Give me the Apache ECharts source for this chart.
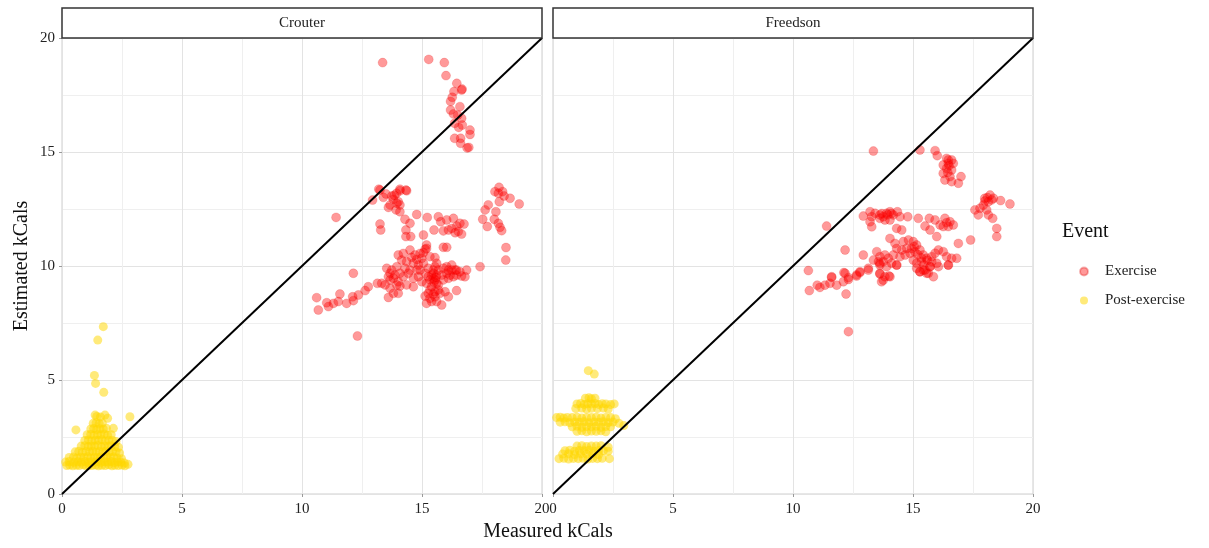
<!DOCTYPE html>
<html><head><meta charset="utf-8">
<script src="https://cdn.jsdelivr.net/npm/echarts@6/dist/echarts.min.js"></script>
<style>html,body{margin:0;padding:0;background:#fff}#c{width:1209px;height:548px}</style>
</head><body><div id="c"></div>
<script>
const panels = ['Crouter', 'Freedson'];
const events = ['Exercise', 'Post-exercise'];

const crouterExercise = [
[13.36,18.92],[15.28,19.06],[15.93,18.92],[16.0,18.35],[16.45,18.01],[16.67,17.76],[16.65,17.72],[16.33,17.65],[16.26,17.4],[16.19,17.22],
[16.58,16.99],[16.19,16.84],[16.31,16.67],[16.49,16.62],[16.65,16.48],[16.36,16.26],[16.53,16.08],[16.68,16.18],[17.0,15.96],[17.0,15.77],
[16.36,15.6],[16.61,15.6],[16.61,15.38],[16.88,15.18],[16.95,15.2],
[13.2,13.37],[14.08,13.37],[14.33,13.33],[13.25,13.33],[13.5,13.16],[13.74,13.07],[13.94,13.19],[14.08,13.3],[14.36,13.3],[13.8,12.92],
[14.01,12.82],[14.08,12.68],[13.67,12.68],[13.6,12.57],[13.92,12.46],[14.08,12.38],[12.94,12.89],[13.39,13.01],[13.85,13.1],[13.95,12.75],
[11.42,12.13],[13.25,11.84],[13.28,11.58],
[14.29,12.05],[14.5,11.87],[14.78,12.26],[14.33,11.58],[14.53,11.29],[14.33,11.29],[15.06,11.36],[15.22,12.13],[15.5,11.58],[15.68,12.16],
[15.78,11.94],[16.03,12.02],[16.31,12.09],[15.89,11.54],[16.1,11.58],[16.24,11.65],[16.45,11.75],[16.58,11.87],[16.75,11.84],[16.51,11.51],
[16.65,11.4],[16.38,11.46],[15.89,10.82],[16.03,10.82],[15.19,10.92],[15.13,10.73],
[18.21,13.45],[18.04,13.26],[18.18,13.19],[18.36,13.26],[18.42,13.07],[18.67,12.97],[18.22,12.82],[19.05,12.72],[17.76,12.68],[17.63,12.46],
[17.53,12.05],[18.08,12.38],[18.01,12.05],[18.18,11.87],[18.25,11.7],[18.32,11.55],[17.72,11.73],[18.5,10.81],[18.49,10.26],[17.42,9.97],
[14.01,10.48],[14.5,10.7],[14.71,10.48],[14.99,10.34],[15.19,10.77],[15.54,10.37],[13.53,9.9],[13.74,9.82],[13.95,9.97],[14.15,10.26],
[14.36,10.19],[14.64,10.12],[14.85,10.04],[15.06,10.12],[15.26,9.9],[15.47,9.82],[15.54,9.97],[15.61,9.6],[15.47,9.46],[15.33,9.39],
[15.19,9.24],[15.4,9.09],[15.68,9.17],[15.89,9.39],[16.1,9.46],[16.03,9.97],[16.24,10.04],[16.38,9.82],[16.44,9.6],[16.31,9.53],
[16.65,9.56],[16.86,9.82],[16.79,9.53],[13.6,9.53],[13.81,9.46],[14.01,9.31],[14.22,9.53],[14.43,9.68],[14.64,9.46],[14.85,9.53],
[14.99,9.31],[14.64,9.09],[14.08,9.12],[13.67,9.02],[13.81,8.8],[13.6,8.62],[14.01,8.8],[15.13,8.68],[15.33,8.58],[15.54,8.65],
[15.75,8.8],[15.96,8.87],[16.1,8.65],[15.82,8.29],[15.61,8.44],[15.4,8.44],[15.19,8.36],[16.44,8.92],[13.14,9.24],[13.32,9.24],
[12.14,9.68],[12.76,9.09],[12.63,8.92],[12.35,8.73],[12.11,8.65],[12.14,8.48],[11.86,8.36],[11.58,8.77],[11.51,8.44],[11.31,8.36],
[11.1,8.22],[11.03,8.39],[10.61,8.61],[10.68,8.07],[12.31,6.93],
[15.47,9.68],[15.54,9.39],[15.4,9.6],[15.61,9.24],[15.26,9.53],[15.13,9.68],[14.92,9.82],[14.78,9.82],[14.5,9.82],[14.29,9.9],
[14.08,9.68],[13.87,9.6],[13.67,9.68],[15.68,9.82],[15.82,9.6],[16.03,9.68],[16.17,9.6],[16.24,9.82],[15.33,8.95],[15.54,8.87],
[15.68,8.95],[15.47,8.77],[15.26,8.8],[13.67,9.39],[13.46,9.17],[13.95,9.17],[14.36,9.17],[14.78,10.29],[14.57,10.38],[14.22,10.55],
[14.92,10.55],[15.06,10.58],[15.33,10.41],[15.61,10.12],[15.89,9.9],[16.1,9.82],[16.58,9.75],[16.44,9.82],[15.5,9.3],[15.58,9.5]
];

const crouterPost = [
[1.72,7.34],[1.49,6.75],[1.35,5.2],[1.40,4.85],[1.74,4.46],[0.58,2.81],[2.83,3.39],[1.38,3.46],[1.79,3.46],[1.9,3.32],[2.14,2.88],
[0.2,1.25],[0.32,1.27],[0.45,1.24],[0.6,1.26],[0.72,1.25],[0.88,1.28],[1.0,1.24],[1.12,1.26],[1.25,1.25],[1.4,1.27],[1.52,1.24],[1.66,1.26],[1.8,1.25],[1.95,1.28],[2.08,1.24],[2.2,1.26],[2.35,1.25],[2.5,1.27],[2.62,1.24],[2.75,1.3],
[0.15,1.4],[0.3,1.42],[0.5,1.39],[0.65,1.41],[0.8,1.4],[0.95,1.43],[1.1,1.38],[1.22,1.41],[1.38,1.4],[1.5,1.42],[1.62,1.39],[1.78,1.41],[1.9,1.4],[2.05,1.43],[2.18,1.38],[2.32,1.41],[2.45,1.4],[2.6,1.36],
[0.3,1.6],[0.48,1.62],[0.62,1.58],[0.78,1.61],[0.92,1.6],[1.08,1.63],[1.2,1.58],[1.35,1.61],[1.48,1.6],[1.6,1.62],[1.75,1.59],[1.88,1.61],[2.02,1.6],[2.15,1.62],[2.3,1.58],[2.48,1.55],
[0.55,1.85],[0.7,1.87],[0.85,1.83],[1.0,1.86],[1.15,1.85],[1.28,1.88],[1.42,1.84],[1.55,1.86],[1.7,1.85],[1.82,1.87],[1.96,1.83],[2.1,1.86],[2.25,1.85],[2.4,1.8],
[0.8,2.1],[0.95,2.12],[1.1,2.08],[1.22,2.11],[1.36,2.1],[1.5,2.13],[1.64,2.08],[1.78,2.11],[1.92,2.1],[2.05,2.12],[2.2,2.08],[2.35,2.05],
[0.95,2.35],[1.1,2.37],[1.24,2.33],[1.38,2.36],[1.52,2.35],[1.66,2.38],[1.8,2.33],[1.95,2.36],[2.1,2.35],[2.25,2.3],
[1.05,2.6],[1.2,2.62],[1.34,2.58],[1.48,2.61],[1.62,2.6],[1.76,2.63],[1.9,2.58],[2.05,2.6],
[1.2,2.85],[1.32,2.87],[1.45,2.83],[1.58,2.86],[1.72,2.85],[1.85,2.88],
[1.3,3.1],[1.42,3.12],[1.55,3.08],[1.68,3.11],[1.45,3.4],[1.6,3.38]
];

const freedsonExercise = [
[13.35,15.04],[15.29,15.09],[15.92,15.06],[16.01,14.84],[16.4,14.72],[16.61,14.65],[16.47,14.5],[16.26,14.43],[16.4,14.28],[16.61,14.21],
[16.26,14.06],[16.54,13.92],[16.33,13.77],[16.61,13.7],[16.89,13.63],[17.0,13.92],[16.68,14.5],[16.47,14.65],[16.5,14.4],[16.45,14.1],
[17.99,12.97],[18.21,13.11],[18.35,12.97],[18.14,12.82],[17.93,12.67],[17.79,12.53],[17.58,12.46],[17.72,12.24],[18.07,12.46],[18.14,12.24],
[18.32,12.09],[18.65,12.87],[19.04,12.72],[18.49,11.65],[18.49,11.29],[17.4,11.14],[16.89,10.99],[18.1,13.0],[18.28,12.9],[18.0,12.85],
[11.4,11.75],[12.93,12.19],[13.21,12.38],[13.42,12.31],[13.62,12.24],[13.76,12.16],[13.9,12.31],[14.04,12.38],[14.18,12.24],[14.35,12.38],
[14.46,12.16],[14.04,12.02],[13.83,12.02],[13.62,12.09],[13.28,12.16],[13.21,11.94],[13.28,11.72],[14.32,11.65],[14.53,11.58],[14.78,12.16],
[15.22,12.09],[15.5,11.75],[15.68,12.09],[15.92,12.02],[16.13,11.8],[16.33,12.09],[16.54,11.94],[16.68,11.8],[16.47,11.73],[16.26,11.73],
[15.99,11.29],[15.71,11.58],[13.95,12.25],[14.1,12.3],[13.7,12.3],[16.4,11.9],
[14.04,11.21],[14.25,10.99],[14.6,11.07],[14.81,11.14],[15.01,11.07],[15.15,10.92],[14.94,10.77],[14.74,10.77],[14.53,10.7],[14.32,10.77],
[14.18,10.48],[14.46,10.41],[14.67,10.48],[14.88,10.56],[15.08,10.63],[15.29,10.7],[15.43,10.48],[15.57,10.34],[15.78,10.41],[15.92,10.56],
[16.06,10.7],[16.26,10.63],[16.4,10.41],[16.61,10.34],[16.82,10.34],[16.47,10.04],[15.99,10.12],[15.71,9.97],[15.5,9.82],[15.64,9.68],
[15.29,9.75],[15.15,10.12],[15.01,10.26],[15.36,10.19],[15.78,10.19],[15.2,10.5],[15.35,10.35],[15.45,10.05],[15.6,10.25],[15.05,10.85],
[13.49,10.63],[13.62,10.41],[13.83,10.48],[13.97,10.34],[13.76,10.19],[13.56,10.19],[13.35,10.26],[13.62,10.04],[13.9,9.97],[14.11,10.12],
[14.32,10.04],[12.17,10.7],[12.93,10.48],[13.14,9.9],[12.79,9.75],[12.65,9.61],[12.31,9.49],[12.17,9.68],[11.61,9.53],[10.64,9.8],
[13.62,9.68],[13.83,9.53],[14.04,9.53],
[10.68,8.92],[11.01,9.16],[11.12,9.06],[11.33,9.16],[11.54,9.24],[11.61,9.5],[11.82,9.16],[12.1,9.31],[12.12,9.71],[12.31,9.41],
[12.65,9.56],[12.79,9.71],[13.14,9.82],[12.21,8.77],[12.31,7.12],[13.62,9.65],[13.76,9.38],[13.69,9.31],[14.0,9.56],
[15.15,9.9],[15.29,9.75],[15.57,9.68],[15.85,9.53],[15.43,9.82],[15.71,9.97],[16.06,9.97],[16.47,10.04],[13.62,10.12],[14.32,10.04]
];

const freedsonPost = [
[1.47,5.41],[1.72,5.26],
[1.35,4.2],[1.5,4.22],[1.6,4.18],[1.75,4.2],
[1.0,3.95],[1.15,3.97],[1.3,3.93],[1.45,3.96],[1.6,3.95],[1.75,3.97],[1.9,3.93],[2.05,3.96],[2.2,3.95],[2.4,3.92],[2.55,3.95],
[0.95,3.75],[1.2,3.77],[1.4,3.73],[1.6,3.76],[1.85,3.75],[2.1,3.77],[2.3,3.73],
[0.15,3.35],[0.3,3.37],[0.45,3.33],[0.6,3.36],[0.8,3.35],[1.0,3.37],[1.2,3.33],[1.4,3.36],[1.6,3.35],[1.8,3.37],[2.0,3.33],[2.2,3.36],[2.4,3.35],[2.6,3.3],
[0.3,3.15],[0.5,3.17],[0.7,3.13],[0.9,3.16],[1.1,3.15],[1.3,3.17],[1.5,3.13],[1.7,3.16],[1.9,3.15],[2.1,3.17],[2.3,3.13],[2.5,3.16],[2.75,3.1],[2.95,3.0],
[0.8,2.95],[1.0,2.97],[1.2,2.93],[1.4,2.96],[1.6,2.95],[1.8,2.97],[2.0,2.93],[2.2,2.96],[2.4,2.95],
[1.0,2.75],[1.2,2.77],[1.4,2.73],[1.6,2.76],[1.8,2.75],[2.0,2.77],[2.2,2.73],
[1.0,2.1],[1.2,2.12],[1.4,2.08],[1.6,2.11],[1.8,2.1],[2.0,2.12],[2.3,2.05],
[0.5,1.9],[0.7,1.92],[0.9,1.88],[1.1,1.91],[1.3,1.9],[1.5,1.92],[1.7,1.88],[1.9,1.91],[2.1,1.9],[2.3,1.88],
[0.4,1.75],[0.65,1.77],[0.9,1.73],[1.15,1.76],[1.4,1.75],[1.65,1.77],[1.9,1.73],
[0.25,1.55],[0.45,1.57],[0.65,1.53],[0.85,1.56],[1.05,1.55],[1.25,1.57],[1.45,1.53],[1.65,1.56],[1.85,1.55],[2.05,1.57],[2.35,1.55]
];

const identityLine = [[0,0],[20,20]];

const exColor = 'rgba(255,0,0,0.5)';
const postColor = 'rgba(255,215,0,0.65)';
const serif = '"Liberation Serif", "DejaVu Serif", serif';

const chart = echarts.init(document.getElementById('c'), null, {renderer: 'canvas'});

function xAxisDef(gi) {
  return {
    gridIndex: gi, type: 'value', min: 0, max: 20, interval: 5,
    axisLine: {show: false},
    axisTick: {show: true, length: 3, lineStyle: {color: '#999'}},
    axisLabel: {color: '#222', fontFamily: serif, fontSize: 15, margin: 8},
    splitLine: {show: true, lineStyle: {color: '#e3e3e3', width: 1}},
    minorTick: {show: false, splitNumber: 2},
    minorSplitLine: {show: true, lineStyle: {color: '#efefef', width: 1}}
  };
}
function yAxisDef(gi) {
  const a = {
    gridIndex: gi, type: 'value', min: 0, max: 20, interval: 5,
    axisLine: {show: false},
    axisTick: {show: gi === 0, length: 3, lineStyle: {color: '#999'}},
    axisLabel: {show: gi === 0, color: '#222', fontFamily: serif, fontSize: 15, margin: 7},
    splitLine: {show: true, lineStyle: {color: '#e3e3e3', width: 1}},
    minorTick: {show: false, splitNumber: 2},
    minorSplitLine: {show: true, lineStyle: {color: '#efefef', width: 1}}
  };
  if (gi === 0) {
    a.name = 'Estimated kCals';
    a.nameLocation = 'middle';
    a.nameRotate = 90;
    a.nameGap = 30;
    a.nameTextStyle = {fontFamily: serif, fontSize: 20, color: '#111'};
  }
  return a;
}

const dataSets = [[crouterExercise, crouterPost], [freedsonExercise, freedsonPost]];
const series = [];
dataSets.forEach((sets, gi) => {
  series.push({
    name: events[0], type: 'scatter', xAxisIndex: gi, yAxisIndex: gi,
    data: sets[0], symbol: 'circle', symbolSize: 9,
    itemStyle: {color: exColor, borderColor: 'rgba(220,0,0,0.35)', borderWidth: 0.6},
    emphasis: {disabled: true}, z: 2
  });
});
dataSets.forEach((sets, gi) => {
  series.push({
    name: events[1], type: 'scatter', xAxisIndex: gi, yAxisIndex: gi,
    data: sets[1], symbol: 'circle', symbolSize: 9,
    itemStyle: {color: postColor},
    emphasis: {disabled: true}, z: 2
  });
});
[0, 1].forEach(gi => {
  series.push({
    type: 'line', xAxisIndex: gi, yAxisIndex: gi, data: identityLine,
    symbol: 'none', lineStyle: {color: '#000', width: 2}, z: 5, silent: true
  });
});

const option = {
  animation: false,
  backgroundColor: '#fff',
  grid: [
    {left: 62, top: 38, width: 480, height: 456, show: true, borderColor: '#cfcfcf', borderWidth: 1, backgroundColor: 'transparent'},
    {left: 553, top: 38, width: 480, height: 456, show: true, borderColor: '#cfcfcf', borderWidth: 1, backgroundColor: 'transparent'}
  ],
  xAxis: [xAxisDef(0), xAxisDef(1)],
  yAxis: [yAxisDef(0), yAxisDef(1)],
  legend: {
    data: events, orient: 'vertical', left: 1074, top: 259, itemGap: 14,
    icon: 'circle', itemWidth: 8, itemHeight: 8,
    textStyle: {fontFamily: serif, fontSize: 15, color: '#222', padding: [0, 0, 0, 12]}
  },
  graphic: [
    {type: 'rect', shape: {x: 62, y: 8, width: 480, height: 30}, style: {fill: '#fff', stroke: '#333', lineWidth: 1.5}, z: 10},
    {type: 'text', x: 302, y: 23, style: {text: panels[0], font: '15px ' + serif, fill: '#222', textAlign: 'center', textVerticalAlign: 'middle'}, z: 11},
    {type: 'rect', shape: {x: 553, y: 8, width: 480, height: 30}, style: {fill: '#fff', stroke: '#333', lineWidth: 1.5}, z: 10},
    {type: 'text', x: 793, y: 23, style: {text: panels[1], font: '15px ' + serif, fill: '#222', textAlign: 'center', textVerticalAlign: 'middle'}, z: 11},
    {type: 'text', x: 548, y: 532, style: {text: 'Measured kCals', font: '20px ' + serif, fill: '#111', textAlign: 'center', textVerticalAlign: 'middle'}},
    {type: 'text', x: 1062, y: 232, style: {text: 'Event', font: '20px ' + serif, fill: '#111', textAlign: 'left', textVerticalAlign: 'middle'}}
  ],
  series: series
};
chart.setOption(option);
</script>
</body></html>
